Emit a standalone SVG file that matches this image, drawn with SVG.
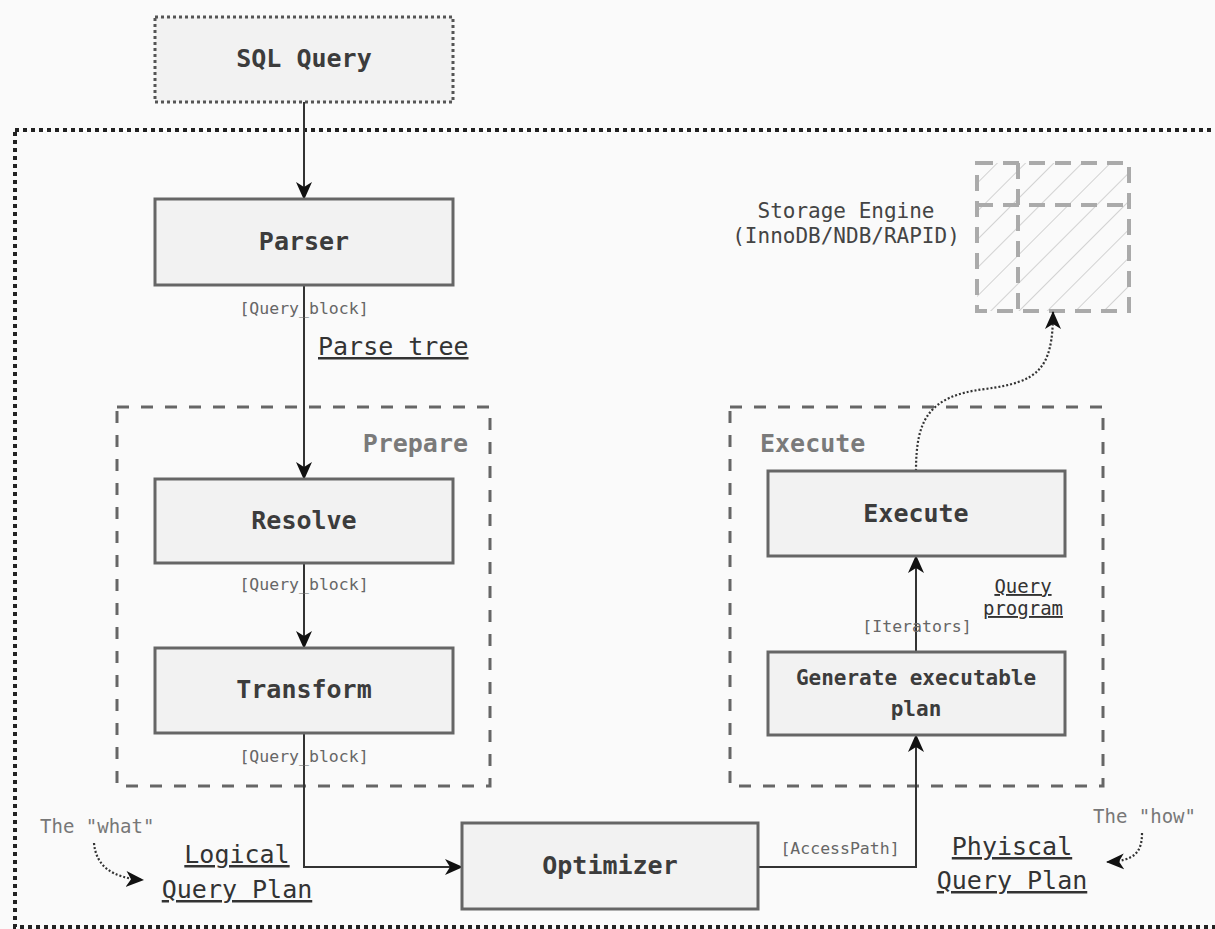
<svg xmlns="http://www.w3.org/2000/svg" width="1215" height="929" viewBox="0 0 1215 929">
  <style>
    text { font-family: "DejaVu Sans Mono", "Liberation Mono", monospace; }
    .node rect { fill: #f2f2f2; stroke: #666; stroke-width: 3; }
    .node text { font-size: 25px; font-weight: bold; fill: #3c3c3c; text-anchor: middle; }
    .group { fill: none; stroke: #666; stroke-width: 3; stroke-dasharray: 12 12; }
    .grouplabel { font-size: 25px; font-weight: bold; fill: #7a7a7a; }
    .edge { fill: none; stroke: #333; stroke-width: 2; }
    .dotted { fill: none; stroke: #333; stroke-width: 2.2; stroke-dasharray: 2 2; }
    .tag { font-size: 16.5px; fill: #666; text-anchor: middle; }
    .note { font-size: 25px; fill: #333; text-decoration: underline; }
    .aside { font-size: 19px; fill: #777; }
  </style>
  <defs>
    <marker id="arrow" viewBox="0 0 18 18" refX="17" refY="9" markerWidth="18" markerHeight="18" markerUnits="userSpaceOnUse" orient="auto">
      <path d="M0,1 L18,9 L0,17 L5,9 z" fill="#111"/>
    </marker>
    <pattern id="hatch" width="20" height="20" patternUnits="userSpaceOnUse" patternTransform="rotate(45)">
      <line x1="0" y1="0" x2="0" y2="20" stroke="#d2d2d2" stroke-width="2"/>
    </pattern>
  </defs>

  <!-- page background -->
  <rect x="0" y="0" width="1215" height="929" fill="#fafafa"/>

  <!-- server boundary -->
  <rect x="15" y="130" width="1230" height="797" fill="none" stroke="#222" stroke-width="4" stroke-dasharray="4 4"/>

  <!-- stage groups -->
  <g id="prepare-group">
    <rect class="group" x="117" y="407" width="373" height="379"/>
    <text class="grouplabel" x="468" y="452" text-anchor="end">Prepare</text>
  </g>
  <g id="execute-group">
    <rect class="group" x="730" y="407" width="373" height="379"/>
    <text class="grouplabel" x="760" y="452">Execute</text>
  </g>

  <!-- storage engine -->
  <g id="storage-engine">
    <rect x="977" y="163" width="152" height="148" fill="url(#hatch)" stroke="#aaa" stroke-width="4" stroke-dasharray="16 10"/>
    <line x1="1018" y1="163" x2="1018" y2="311" stroke="#aaa" stroke-width="4" stroke-dasharray="16 10"/>
    <line x1="977" y1="205" x2="1129" y2="205" stroke="#aaa" stroke-width="4" stroke-dasharray="16 10"/>
    <text x="846" y="218" font-size="21" fill="#444" text-anchor="middle">Storage Engine</text>
    <text x="846" y="243" font-size="21" fill="#444" text-anchor="middle">(InnoDB/NDB/RAPID)</text>
  </g>

  <!-- connectors -->
  <g id="connectors">
    <path class="edge" d="M304,102 V199" marker-end="url(#arrow)"/>
    <path class="edge" d="M304,285 V479" marker-end="url(#arrow)"/>
    <path class="edge" d="M304,563 V648" marker-end="url(#arrow)"/>
    <path class="edge" d="M304,733 V867 H462" marker-end="url(#arrow)"/>
    <path class="edge" d="M758,867 H916 V735" marker-end="url(#arrow)"/>
    <path class="edge" d="M916,652 V556" marker-end="url(#arrow)"/>
    <path class="dotted" d="M916,471 C916,420 928,396 985,389 C1038,382 1053,370 1053,312" marker-end="url(#arrow)"/>
    <path class="dotted" d="M94,843 C96,866 112,878 143,880" marker-end="url(#arrow)"/>
    <path class="dotted" d="M1142,833 C1142,852 1135,861 1107,862" marker-end="url(#arrow)"/>

    <text class="tag" x="304" y="314">[Query_block]</text>
    <text class="tag" x="304" y="590">[Query_block]</text>
    <text class="tag" x="304" y="762">[Query_block]</text>
    <text class="tag" x="840" y="854">[AccessPath]</text>
    <text class="tag" x="917" y="632">[Iterators]</text>
  </g>

  <!-- nodes -->
  <g id="sql-query" class="node">
    <rect x="155" y="17" width="298" height="85" style="stroke:#555;stroke-dasharray:3 3"/>
    <text x="304" y="67">SQL Query</text>
  </g>
  <g id="parser" class="node">
    <rect x="155" y="199" width="298" height="86"/>
    <text x="304" y="250">Parser</text>
  </g>
  <g id="resolve" class="node">
    <rect x="155" y="479" width="298" height="84"/>
    <text x="304" y="529">Resolve</text>
  </g>
  <g id="transform" class="node">
    <rect x="155" y="648" width="298" height="85"/>
    <text x="304" y="698">Transform</text>
  </g>
  <g id="optimizer" class="node">
    <rect x="462" y="823" width="296" height="86"/>
    <text x="610" y="874">Optimizer</text>
  </g>
  <g id="generate-plan" class="node">
    <rect x="768" y="652" width="297" height="83"/>
    <text x="916" y="685" style="font-size:21px">Generate executable</text>
    <text x="916" y="716" style="font-size:21px">plan</text>
  </g>
  <g id="execute" class="node">
    <rect x="768" y="471" width="297" height="85"/>
    <text x="916" y="522">Execute</text>
  </g>

  <!-- annotations -->
  <g id="annotations">
    <text class="note" x="318" y="355">Parse tree</text>
    <text class="note" x="1023" y="593" text-anchor="middle" style="font-size:19px">Query</text>
    <text class="note" x="1023" y="615" text-anchor="middle" style="font-size:19px">program</text>
    <text class="note" x="237" y="863" text-anchor="middle">Logical</text>
    <text class="note" x="237" y="898" text-anchor="middle">Query Plan</text>
    <text class="note" x="1012" y="855" text-anchor="middle">Phyiscal</text>
    <text class="note" x="1012" y="889" text-anchor="middle">Query Plan</text>
    <text class="aside" x="40" y="833">The "what"</text>
    <text class="aside" x="1093" y="823">The "how"</text>
  </g>
</svg>
